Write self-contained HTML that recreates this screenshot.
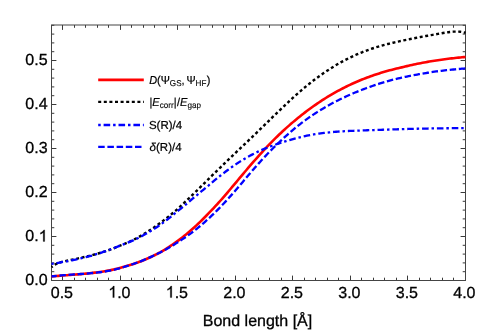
<!DOCTYPE html><html><head><meta charset="utf-8"><style>html,body{margin:0;padding:0;background:#fff;overflow:hidden}svg{display:block;will-change:transform;opacity:.999;filter:blur(0.3px);}text{text-rendering:geometricPrecision;font-family:"Liberation Sans",sans-serif;fill:#000}</style></head><body>
<svg width="491" height="331" viewBox="0 0 491 331">
<rect width="491" height="331" fill="#fff"/>
<defs><clipPath id="c"><rect x="50.9" y="24.4" width="415.9" height="256.7"/></clipPath></defs>
<path d="M51.50,280.5v-2.8M51.50,25.0v2.8M62.50,280.5v-4.9M62.50,25.0v4.9M74.50,280.5v-2.8M74.50,25.0v2.8M85.50,280.5v-2.8M85.50,25.0v2.8M97.50,280.5v-2.8M97.50,25.0v2.8M108.50,280.5v-2.8M108.50,25.0v2.8M120.50,280.5v-4.9M120.50,25.0v4.9M131.50,280.5v-2.8M131.50,25.0v2.8M143.50,280.5v-2.8M143.50,25.0v2.8M154.50,280.5v-2.8M154.50,25.0v2.8M166.50,280.5v-2.8M166.50,25.0v2.8M177.50,280.5v-4.9M177.50,25.0v4.9M189.50,280.5v-2.8M189.50,25.0v2.8M200.50,280.5v-2.8M200.50,25.0v2.8M212.50,280.5v-2.8M212.50,25.0v2.8M223.50,280.5v-2.8M223.50,25.0v2.8M235.50,280.5v-4.9M235.50,25.0v4.9M246.50,280.5v-2.8M246.50,25.0v2.8M258.50,280.5v-2.8M258.50,25.0v2.8M269.50,280.5v-2.8M269.50,25.0v2.8M281.50,280.5v-2.8M281.50,25.0v2.8M292.50,280.5v-4.9M292.50,25.0v4.9M304.50,280.5v-2.8M304.50,25.0v2.8M315.50,280.5v-2.8M315.50,25.0v2.8M327.50,280.5v-2.8M327.50,25.0v2.8M338.50,280.5v-2.8M338.50,25.0v2.8M350.50,280.5v-4.9M350.50,25.0v4.9M361.50,280.5v-2.8M361.50,25.0v2.8M373.50,280.5v-2.8M373.50,25.0v2.8M384.50,280.5v-2.8M384.50,25.0v2.8M396.50,280.5v-2.8M396.50,25.0v2.8M407.50,280.5v-4.9M407.50,25.0v4.9M419.50,280.5v-2.8M419.50,25.0v2.8M430.50,280.5v-2.8M430.50,25.0v2.8M442.50,280.5v-2.8M442.50,25.0v2.8M453.50,280.5v-2.8M453.50,25.0v2.8M465.50,280.5v-4.9M465.50,25.0v4.9M51.5,280.50h4.9M465.5,280.50h-4.9M51.5,271.70h2.8M465.5,271.70h-2.8M51.5,262.90h2.8M465.5,262.90h-2.8M51.5,254.10h2.8M465.5,254.10h-2.8M51.5,245.30h2.8M465.5,245.30h-2.8M51.5,236.50h4.9M465.5,236.50h-4.9M51.5,227.70h2.8M465.5,227.70h-2.8M51.5,218.90h2.8M465.5,218.90h-2.8M51.5,210.10h2.8M465.5,210.10h-2.8M51.5,201.30h2.8M465.5,201.30h-2.8M51.5,192.50h4.9M465.5,192.50h-4.9M51.5,183.70h2.8M465.5,183.70h-2.8M51.5,174.90h2.8M465.5,174.90h-2.8M51.5,166.10h2.8M465.5,166.10h-2.8M51.5,157.30h2.8M465.5,157.30h-2.8M51.5,148.50h4.9M465.5,148.50h-4.9M51.5,139.70h2.8M465.5,139.70h-2.8M51.5,130.90h2.8M465.5,130.90h-2.8M51.5,122.10h2.8M465.5,122.10h-2.8M51.5,113.30h2.8M465.5,113.30h-2.8M51.5,104.50h4.9M465.5,104.50h-4.9M51.5,95.70h2.8M465.5,95.70h-2.8M51.5,86.90h2.8M465.5,86.90h-2.8M51.5,78.10h2.8M465.5,78.10h-2.8M51.5,69.30h2.8M465.5,69.30h-2.8M51.5,60.50h4.9M465.5,60.50h-4.9M51.5,51.70h2.8M465.5,51.70h-2.8M51.5,42.90h2.8M465.5,42.90h-2.8M51.5,34.10h2.8M465.5,34.10h-2.8M51.5,25.30h2.8M465.5,25.30h-2.8" stroke="#3a3a3a" stroke-width="1.0" fill="none"/>
<rect x="51.5" y="25.0" width="414.0" height="255.5" fill="none" stroke="#444" stroke-width="1"/>
<g clip-path="url(#c)" fill="none" stroke-linejoin="round">
<path d="M51.50,276.42 L53.23,276.26 L54.95,276.12 L56.67,275.97 L58.40,275.84 L60.12,275.70 L61.85,275.57 L63.57,275.44 L65.30,275.31 L67.03,275.19 L68.75,275.06 L70.48,274.93 L72.20,274.80 L73.92,274.67 L75.65,274.54 L77.38,274.40 L79.10,274.25 L80.83,274.11 L82.55,273.95 L84.28,273.79 L86.00,273.62 L87.73,273.44 L89.45,273.25 L91.18,273.06 L92.90,272.85 L94.63,272.65 L96.35,272.44 L98.08,272.22 L99.80,271.98 L101.53,271.73 L103.25,271.47 L104.97,271.18 L106.70,270.89 L108.42,270.57 L110.15,270.23 L111.88,269.88 L113.60,269.51 L115.33,269.12 L117.05,268.71 L118.78,268.27 L120.50,267.82 L122.23,267.35 L123.95,266.86 L125.67,266.35 L127.40,265.85 L129.12,265.34 L130.85,264.81 L132.57,264.26 L134.30,263.69 L136.03,263.09 L137.75,262.48 L139.48,261.84 L141.20,261.18 L142.93,260.49 L144.65,259.78 L146.38,259.05 L148.10,258.30 L149.83,257.52 L151.55,256.72 L153.28,255.89 L155.00,255.04 L156.72,254.16 L158.45,253.26 L160.18,252.33 L161.90,251.35 L163.62,250.32 L165.35,249.27 L167.08,248.19 L168.80,247.08 L170.53,245.95 L172.25,244.79 L173.98,243.60 L175.70,242.39 L177.43,241.14 L179.15,239.86 L180.88,238.55 L182.60,237.21 L184.33,235.84 L186.05,234.44 L187.78,233.01 L189.50,231.55 L191.23,230.06 L192.95,228.54 L194.68,226.99 L196.40,225.41 L198.13,223.80 L199.85,222.15 L201.58,220.48 L203.30,218.77 L205.03,217.03 L206.75,215.26 L208.48,213.45 L210.20,211.69 L211.93,209.90 L213.65,208.08 L215.38,206.23 L217.10,204.34 L218.83,202.43 L220.55,200.50 L222.28,198.54 L224.00,196.56 L225.73,194.56 L227.45,192.54 L229.18,190.51 L230.90,188.47 L232.63,186.42 L234.35,184.36 L236.08,182.30 L237.80,180.24 L239.53,178.18 L241.25,176.12 L242.97,174.07 L244.70,172.02 L246.43,169.98 L248.15,167.95 L249.88,165.93 L251.60,163.93 L253.33,161.95 L255.05,159.98 L256.77,158.04 L258.50,156.12 L260.23,154.18 L261.95,152.27 L263.68,150.39 L265.40,148.53 L267.13,146.70 L268.85,144.89 L270.58,143.10 L272.30,141.35 L274.02,139.61 L275.75,137.91 L277.48,136.22 L279.20,134.56 L280.93,132.93 L282.65,131.31 L284.38,129.73 L286.10,128.16 L287.83,126.62 L289.55,125.10 L291.27,123.60 L293.00,122.13 L294.73,120.67 L296.45,119.23 L298.18,117.82 L299.90,116.42 L301.62,115.05 L303.35,113.70 L305.08,112.37 L306.80,111.06 L308.53,109.77 L310.25,108.50 L311.98,107.26 L313.70,106.03 L315.43,104.83 L317.15,103.64 L318.88,102.48 L320.60,101.33 L322.32,100.21 L324.05,99.10 L325.78,98.01 L327.50,96.95 L329.23,95.90 L330.95,94.88 L332.68,93.87 L334.40,92.88 L336.12,91.91 L337.85,90.96 L339.58,90.03 L341.30,89.11 L343.03,88.22 L344.75,87.34 L346.48,86.48 L348.20,85.64 L349.93,84.82 L351.65,84.02 L353.38,83.23 L355.10,82.47 L356.83,81.71 L358.55,80.98 L360.28,80.26 L362.00,79.56 L363.73,78.88 L365.45,78.21 L367.18,77.56 L368.90,76.92 L370.63,76.30 L372.35,75.69 L374.08,75.10 L375.80,74.52 L377.53,73.95 L379.25,73.40 L380.98,72.86 L382.70,72.34 L384.43,71.83 L386.15,71.33 L387.88,70.84 L389.60,70.37 L391.32,69.91 L393.05,69.46 L394.78,69.02 L396.50,68.59 L398.23,68.18 L399.95,67.77 L401.68,67.37 L403.40,66.96 L405.12,66.54 L406.85,66.13 L408.58,65.72 L410.30,65.33 L412.03,64.95 L413.75,64.57 L415.48,64.21 L417.20,63.85 L418.93,63.50 L420.65,63.16 L422.38,62.83 L424.10,62.50 L425.83,62.19 L427.55,61.88 L429.28,61.58 L431.00,61.28 L432.73,60.99 L434.45,60.72 L436.18,60.44 L437.90,60.18 L439.63,59.92 L441.35,59.67 L443.08,59.43 L444.80,59.20 L446.53,58.99 L448.25,58.78 L449.98,58.57 L451.70,58.37 L453.43,58.18 L455.15,57.99 L456.88,57.81 L458.60,57.63 L460.33,57.46 L462.05,57.30 L463.78,57.13 L465.50,56.98" stroke="#f00" stroke-width="2.6"/>
<path d="M51.50,267.18 L53.23,265.73 L54.95,264.60 L56.67,263.73 L58.40,263.04 L60.12,262.46 L61.85,261.96 L63.57,261.50 L65.30,261.09 L67.03,260.71 L68.75,260.35 L70.48,260.00 L72.20,259.64 L73.92,259.28 L75.65,258.92 L77.38,258.55 L79.10,258.18 L80.83,257.80 L82.55,257.42 L84.28,257.03 L86.00,256.63 L87.73,256.22 L89.45,255.80 L91.18,255.37 L92.90,254.92 L94.63,254.47 L96.35,254.00 L98.08,253.51 L99.80,253.01 L101.53,252.49 L103.25,251.96 L104.97,251.40 L106.70,250.83 L108.42,250.24 L110.15,249.62 L111.88,248.99 L113.60,248.33 L115.33,247.65 L117.05,246.95 L118.78,246.22 L120.50,245.48 L122.23,244.79 L123.95,244.08 L125.67,243.35 L127.40,242.59 L129.12,241.81 L130.85,241.01 L132.57,240.18 L134.30,239.34 L136.03,238.46 L137.75,237.57 L139.48,236.59 L141.20,235.59 L142.93,234.56 L144.65,233.51 L146.38,232.43 L148.10,231.33 L149.83,230.21 L151.55,229.06 L153.28,227.89 L155.00,226.69 L156.72,225.48 L158.45,224.25 L160.18,223.00 L161.90,221.72 L163.62,220.41 L165.35,219.07 L167.08,217.72 L168.80,216.33 L170.53,214.92 L172.25,213.49 L173.98,212.04 L175.70,210.56 L177.43,209.07 L179.15,207.52 L180.88,205.93 L182.60,204.33 L184.33,202.71 L186.05,201.08 L187.78,199.44 L189.50,197.78 L191.23,196.12 L192.95,194.44 L194.68,192.76 L196.40,191.07 L198.13,189.37 L199.85,187.67 L201.58,185.96 L203.30,184.26 L205.03,182.55 L206.75,180.84 L208.48,179.13 L210.20,177.43 L211.93,175.73 L213.65,174.03 L215.38,172.34 L217.10,170.66 L218.83,168.98 L220.55,167.30 L222.28,165.62 L224.00,163.95 L225.73,162.28 L227.45,160.61 L229.18,158.95 L230.90,157.28 L232.63,155.62 L234.35,153.95 L236.08,152.30 L237.80,150.66 L239.53,149.03 L241.25,147.39 L242.97,145.76 L244.70,144.12 L246.43,142.48 L248.15,140.83 L249.88,139.18 L251.60,137.53 L253.33,135.88 L255.05,134.22 L256.77,132.55 L258.50,130.88 L260.23,129.21 L261.95,127.53 L263.68,125.85 L265.40,124.16 L267.13,122.48 L268.85,120.79 L270.58,119.10 L272.30,117.42 L274.02,115.74 L275.75,114.07 L277.48,112.40 L279.20,110.73 L280.93,109.07 L282.65,107.42 L284.38,105.78 L286.10,104.14 L287.83,102.52 L289.55,100.91 L291.27,99.31 L293.00,97.73 L294.73,96.16 L296.45,94.61 L298.18,93.08 L299.90,91.57 L301.62,90.08 L303.35,88.62 L305.08,87.17 L306.80,85.75 L308.53,84.35 L310.25,82.97 L311.98,81.62 L313.70,80.29 L315.43,78.99 L317.15,77.71 L318.88,76.45 L320.60,75.22 L322.32,74.01 L324.05,72.83 L325.78,71.67 L327.50,70.54 L329.23,69.39 L330.95,68.28 L332.68,67.18 L334.40,66.11 L336.12,65.07 L337.85,64.05 L339.58,63.06 L341.30,62.09 L343.03,61.14 L344.75,60.23 L346.48,59.33 L348.20,58.47 L349.93,57.63 L351.65,56.80 L353.38,55.98 L355.10,55.20 L356.83,54.43 L358.55,53.69 L360.28,52.98 L362.00,52.28 L363.73,51.60 L365.45,50.95 L367.18,50.31 L368.90,49.69 L370.63,49.09 L372.35,48.51 L374.08,47.95 L375.80,47.39 L377.53,46.86 L379.25,46.34 L380.98,45.83 L382.70,45.33 L384.43,44.85 L386.15,44.40 L387.88,43.97 L389.60,43.54 L391.32,43.13 L393.05,42.72 L394.78,42.32 L396.50,41.93 L398.23,41.55 L399.95,41.17 L401.68,40.79 L403.40,40.42 L405.12,40.06 L406.85,39.70 L408.58,39.35 L410.30,39.00 L412.03,38.65 L413.75,38.31 L415.48,37.97 L417.20,37.64 L418.93,37.31 L420.65,36.99 L422.38,36.67 L424.10,36.35 L425.83,36.04 L427.55,35.73 L429.28,35.42 L431.00,35.12 L432.73,34.82 L434.45,34.52 L436.18,34.22 L437.90,33.92 L439.63,33.62 L441.35,33.33 L443.08,33.04 L444.80,32.75 L446.53,32.47 L448.25,32.22 L449.98,31.99 L451.70,31.81 L453.43,31.67 L455.15,31.58 L456.88,31.57 L458.60,31.62 L460.33,31.76 L462.05,31.99 L463.78,32.31 L465.50,32.75" stroke="#000" stroke-width="2.4" stroke-dasharray="2.983 2.586" stroke-dashoffset="1.49"/>
<path d="M51.50,263.82 L53.23,263.57 L54.95,263.31 L56.67,263.04 L58.40,262.77 L60.12,262.49 L61.85,262.19 L63.57,261.89 L65.30,261.58 L67.03,261.26 L68.75,260.93 L70.48,260.60 L72.20,260.25 L73.92,259.89 L75.65,259.53 L77.38,259.15 L79.10,258.76 L80.83,258.37 L82.55,257.96 L84.28,257.55 L86.00,257.12 L87.73,256.68 L89.45,256.23 L91.18,255.77 L92.90,255.28 L94.63,254.75 L96.35,254.21 L98.08,253.67 L99.80,253.11 L101.53,252.54 L103.25,251.96 L104.97,251.36 L106.70,250.76 L108.42,250.14 L110.15,249.51 L111.88,248.86 L113.60,248.21 L115.33,247.54 L117.05,246.86 L118.78,246.16 L120.50,245.44 L122.23,244.80 L123.95,244.15 L125.67,243.47 L127.40,242.78 L129.12,242.08 L130.85,241.35 L132.57,240.61 L134.30,239.84 L136.03,239.06 L137.75,238.26 L139.48,237.37 L141.20,236.46 L142.93,235.52 L144.65,234.57 L146.38,233.59 L148.10,232.59 L149.83,231.56 L151.55,230.52 L153.28,229.44 L155.00,228.35 L156.72,227.20 L158.45,226.02 L160.18,224.82 L161.90,223.59 L163.62,222.33 L165.35,221.05 L167.08,219.74 L168.80,218.40 L170.53,217.03 L172.25,215.64 L173.98,214.23 L175.70,212.80 L177.43,211.35 L179.15,209.94 L180.88,208.53 L182.60,207.12 L184.33,205.69 L186.05,204.26 L187.78,202.81 L189.50,201.36 L191.23,199.91 L192.95,198.45 L194.68,196.99 L196.40,195.54 L198.13,194.09 L199.85,192.64 L201.58,191.20 L203.30,189.77 L205.03,188.34 L206.75,186.93 L208.48,185.54 L210.20,184.08 L211.93,182.60 L213.65,181.15 L215.38,179.71 L217.10,178.29 L218.83,176.89 L220.55,175.52 L222.28,174.16 L224.00,172.83 L225.73,171.52 L227.45,170.23 L229.18,168.96 L230.90,167.71 L232.63,166.49 L234.35,165.29 L236.08,164.13 L237.80,163.00 L239.53,161.90 L241.25,160.82 L242.97,159.77 L244.70,158.74 L246.43,157.74 L248.15,156.76 L249.88,155.81 L251.60,154.88 L253.33,153.98 L255.05,153.09 L256.77,152.23 L258.50,151.39 L260.23,150.62 L261.95,149.87 L263.68,149.14 L265.40,148.43 L267.13,147.74 L268.85,147.07 L270.58,146.41 L272.30,145.76 L274.02,145.14 L275.75,144.52 L277.48,143.93 L279.20,143.34 L280.93,142.77 L282.65,142.21 L284.38,141.66 L286.10,141.12 L287.83,140.60 L289.55,140.09 L291.27,139.59 L293.00,139.10 L294.73,138.63 L296.45,138.17 L298.18,137.73 L299.90,137.30 L301.62,136.88 L303.35,136.48 L305.08,136.10 L306.80,135.73 L308.53,135.38 L310.25,135.04 L311.98,134.72 L313.70,134.42 L315.43,134.13 L317.15,133.86 L318.88,133.61 L320.60,133.37 L322.32,133.15 L324.05,132.94 L325.78,132.75 L327.50,132.57 L329.23,132.38 L330.95,132.21 L332.68,132.05 L334.40,131.90 L336.12,131.76 L337.85,131.62 L339.58,131.50 L341.30,131.39 L343.03,131.28 L344.75,131.19 L346.48,131.09 L348.20,131.01 L349.93,130.93 L351.65,130.85 L353.38,130.78 L355.10,130.71 L356.83,130.65 L358.55,130.58 L360.28,130.52 L362.00,130.46 L363.73,130.40 L365.45,130.33 L367.18,130.27 L368.90,130.21 L370.63,130.15 L372.35,130.09 L374.08,130.03 L375.80,129.97 L377.53,129.91 L379.25,129.86 L380.98,129.80 L382.70,129.74 L384.43,129.69 L386.15,129.63 L387.88,129.58 L389.60,129.52 L391.32,129.47 L393.05,129.41 L394.78,129.36 L396.50,129.31 L398.23,129.26 L399.95,129.21 L401.68,129.16 L403.40,129.11 L405.12,129.06 L406.85,129.01 L408.58,128.97 L410.30,128.92 L412.03,128.88 L413.75,128.84 L415.48,128.79 L417.20,128.75 L418.93,128.71 L420.65,128.67 L422.38,128.64 L424.10,128.60 L425.83,128.57 L427.55,128.53 L429.28,128.50 L431.00,128.47 L432.73,128.44 L434.45,128.41 L436.18,128.38 L437.90,128.36 L439.63,128.34 L441.35,128.31 L443.08,128.29 L444.80,128.27 L446.53,128.26 L448.25,128.24 L449.98,128.23 L451.70,128.21 L453.43,128.20 L455.15,128.19 L456.88,128.19 L458.60,128.18 L460.33,128.18 L462.05,128.18 L463.78,128.18 L465.50,128.18" stroke="#00f" stroke-width="2.3" stroke-dasharray="2.491 2.890 6.577 2.890" stroke-dashoffset="0.30"/>
<path d="M51.50,276.46 L53.23,276.24 L54.95,276.03 L56.67,275.85 L58.40,275.67 L60.12,275.51 L61.85,275.35 L63.57,275.21 L65.30,275.07 L67.03,274.94 L68.75,274.82 L70.48,274.70 L72.20,274.59 L73.92,274.47 L75.65,274.36 L77.38,274.25 L79.10,274.13 L80.83,274.01 L82.55,273.89 L84.28,273.76 L86.00,273.63 L87.73,273.49 L89.45,273.34 L91.18,273.17 L92.90,273.00 L94.63,272.83 L96.35,272.65 L98.08,272.46 L99.80,272.25 L101.53,272.02 L103.25,271.77 L104.97,271.50 L106.70,271.21 L108.42,270.90 L110.15,270.56 L111.88,270.20 L113.60,269.81 L115.33,269.41 L117.05,268.97 L118.78,268.52 L120.50,268.04 L122.23,267.54 L123.95,267.02 L125.67,266.47 L127.40,265.94 L129.12,265.40 L130.85,264.84 L132.57,264.26 L134.30,263.66 L136.03,263.04 L137.75,262.40 L139.48,261.74 L141.20,261.06 L142.93,260.36 L144.65,259.65 L146.38,258.92 L148.10,258.17 L149.83,257.41 L151.55,256.63 L153.28,255.83 L155.00,255.01 L156.72,254.19 L158.45,253.34 L160.18,252.48 L161.90,251.57 L163.62,250.62 L165.35,249.66 L167.08,248.69 L168.80,247.70 L170.53,246.69 L172.25,245.67 L173.98,244.64 L175.70,243.59 L177.43,242.51 L179.15,241.41 L180.88,240.29 L182.60,239.15 L184.33,237.98 L186.05,236.79 L187.78,235.57 L189.50,234.33 L191.23,233.06 L192.95,231.76 L194.68,230.43 L196.40,229.07 L198.13,227.68 L199.85,226.26 L201.58,224.80 L203.30,223.31 L205.03,221.78 L206.75,220.22 L208.48,218.62 L210.20,217.05 L211.93,215.45 L213.65,213.82 L215.38,212.14 L217.10,210.42 L218.83,208.67 L220.55,206.89 L222.28,205.08 L224.00,203.24 L225.73,201.37 L227.45,199.48 L229.18,197.57 L230.90,195.64 L232.63,193.69 L234.35,191.73 L236.08,189.75 L237.80,187.73 L239.53,185.70 L241.25,183.67 L242.97,181.64 L244.70,179.61 L246.43,177.57 L248.15,175.55 L249.88,173.53 L251.60,171.52 L253.33,169.52 L255.05,167.54 L256.77,165.57 L258.50,163.62 L260.23,161.72 L261.95,159.83 L263.68,157.97 L265.40,156.13 L267.13,154.31 L268.85,152.52 L270.58,150.74 L272.30,148.99 L274.02,147.26 L275.75,145.56 L277.48,143.88 L279.20,142.22 L280.93,140.59 L282.65,138.98 L284.38,137.40 L286.10,135.84 L287.83,134.30 L289.55,132.80 L291.27,131.31 L293.00,129.86 L294.73,128.42 L296.45,127.02 L298.18,125.64 L299.90,124.29 L301.62,122.96 L303.35,121.67 L305.08,120.39 L306.80,119.13 L308.53,117.89 L310.25,116.68 L311.98,115.50 L313.70,114.34 L315.43,113.21 L317.15,112.10 L318.88,111.01 L320.60,109.95 L322.32,108.91 L324.05,107.89 L325.78,106.89 L327.50,105.91 L329.23,104.96 L330.95,104.02 L332.68,103.10 L334.40,102.19 L336.12,101.31 L337.85,100.44 L339.58,99.59 L341.30,98.75 L343.03,97.93 L344.75,97.13 L346.48,96.33 L348.20,95.56 L349.93,94.79 L351.65,94.03 L353.38,93.29 L355.10,92.56 L356.83,91.85 L358.55,91.15 L360.28,90.47 L362.00,89.79 L363.73,89.13 L365.45,88.48 L367.18,87.84 L368.90,87.21 L370.63,86.60 L372.35,86.00 L374.08,85.41 L375.80,84.83 L377.53,84.26 L379.25,83.71 L380.98,83.17 L382.70,82.64 L384.43,82.12 L386.15,81.62 L387.88,81.12 L389.60,80.64 L391.32,80.17 L393.05,79.72 L394.78,79.27 L396.50,78.84 L398.23,78.42 L399.95,78.02 L401.68,77.62 L403.40,77.24 L405.12,76.87 L406.85,76.51 L408.58,76.17 L410.30,75.83 L412.03,75.51 L413.75,75.20 L415.48,74.89 L417.20,74.55 L418.93,74.22 L420.65,73.91 L422.38,73.60 L424.10,73.30 L425.83,73.02 L427.55,72.74 L429.28,72.47 L431.00,72.21 L432.73,71.96 L434.45,71.72 L436.18,71.48 L437.90,71.25 L439.63,71.03 L441.35,70.82 L443.08,70.62 L444.80,70.42 L446.53,70.22 L448.25,70.04 L449.98,69.85 L451.70,69.68 L453.43,69.51 L455.15,69.34 L456.88,69.18 L458.60,69.02 L460.33,68.87 L462.05,68.72 L463.78,68.57 L465.50,68.43" stroke="#00f" stroke-width="2.3" stroke-dasharray="6.453 2.680" stroke-dashoffset="1.19"/>
</g>
<text x="50.78" y="297.60" font-size="16" stroke="#000" stroke-width="0.3">0</text><text x="59.68" y="297.60" font-size="16" stroke="#000" stroke-width="0.3">.</text><text x="64.12" y="297.60" font-size="16" stroke="#000" stroke-width="0.3">5</text>
<path transform="translate(108.28,297.60) scale(0.00781,-0.00781)" d="M763 0H583V1147Q518 1085 412.5 1023T223 930V1104Q374 1175 487 1276T647 1472H763V0Z" fill="#000" stroke="#000" stroke-width="38"/><text x="117.18" y="297.60" font-size="16" stroke="#000" stroke-width="0.3">.</text><text x="121.62" y="297.60" font-size="16" stroke="#000" stroke-width="0.3">0</text>
<path transform="translate(165.78,297.60) scale(0.00781,-0.00781)" d="M763 0H583V1147Q518 1085 412.5 1023T223 930V1104Q374 1175 487 1276T647 1472H763V0Z" fill="#000" stroke="#000" stroke-width="38"/><text x="174.68" y="297.60" font-size="16" stroke="#000" stroke-width="0.3">.</text><text x="179.12" y="297.60" font-size="16" stroke="#000" stroke-width="0.3">5</text>
<text x="223.28" y="297.60" font-size="16" stroke="#000" stroke-width="0.3">2</text><text x="232.18" y="297.60" font-size="16" stroke="#000" stroke-width="0.3">.</text><text x="236.62" y="297.60" font-size="16" stroke="#000" stroke-width="0.3">0</text>
<text x="280.78" y="297.60" font-size="16" stroke="#000" stroke-width="0.3">2</text><text x="289.68" y="297.60" font-size="16" stroke="#000" stroke-width="0.3">.</text><text x="294.12" y="297.60" font-size="16" stroke="#000" stroke-width="0.3">5</text>
<text x="338.28" y="297.60" font-size="16" stroke="#000" stroke-width="0.3">3</text><text x="347.18" y="297.60" font-size="16" stroke="#000" stroke-width="0.3">.</text><text x="351.62" y="297.60" font-size="16" stroke="#000" stroke-width="0.3">0</text>
<text x="395.78" y="297.60" font-size="16" stroke="#000" stroke-width="0.3">3</text><text x="404.68" y="297.60" font-size="16" stroke="#000" stroke-width="0.3">.</text><text x="409.12" y="297.60" font-size="16" stroke="#000" stroke-width="0.3">5</text>
<text x="453.28" y="297.60" font-size="16" stroke="#000" stroke-width="0.3">4</text><text x="462.18" y="297.60" font-size="16" stroke="#000" stroke-width="0.3">.</text><text x="466.62" y="297.60" font-size="16" stroke="#000" stroke-width="0.3">0</text>
<text x="25.36" y="285.40" font-size="16" stroke="#000" stroke-width="0.3">0</text><text x="34.26" y="285.40" font-size="16" stroke="#000" stroke-width="0.3">.</text><text x="38.70" y="285.40" font-size="16" stroke="#000" stroke-width="0.3">0</text>
<text x="25.36" y="241.40" font-size="16" stroke="#000" stroke-width="0.3">0</text><text x="34.26" y="241.40" font-size="16" stroke="#000" stroke-width="0.3">.</text><path transform="translate(38.70,241.40) scale(0.00781,-0.00781)" d="M763 0H583V1147Q518 1085 412.5 1023T223 930V1104Q374 1175 487 1276T647 1472H763V0Z" fill="#000" stroke="#000" stroke-width="38"/>
<text x="25.36" y="197.40" font-size="16" stroke="#000" stroke-width="0.3">0</text><text x="34.26" y="197.40" font-size="16" stroke="#000" stroke-width="0.3">.</text><text x="38.70" y="197.40" font-size="16" stroke="#000" stroke-width="0.3">2</text>
<text x="25.36" y="153.40" font-size="16" stroke="#000" stroke-width="0.3">0</text><text x="34.26" y="153.40" font-size="16" stroke="#000" stroke-width="0.3">.</text><text x="38.70" y="153.40" font-size="16" stroke="#000" stroke-width="0.3">3</text>
<text x="25.36" y="109.40" font-size="16" stroke="#000" stroke-width="0.3">0</text><text x="34.26" y="109.40" font-size="16" stroke="#000" stroke-width="0.3">.</text><text x="38.70" y="109.40" font-size="16" stroke="#000" stroke-width="0.3">4</text>
<text x="25.36" y="65.40" font-size="16" stroke="#000" stroke-width="0.3">0</text><text x="34.26" y="65.40" font-size="16" stroke="#000" stroke-width="0.3">.</text><text x="38.70" y="65.40" font-size="16" stroke="#000" stroke-width="0.3">5</text>
<text x="257.5" y="326.3" font-size="16" text-anchor="middle" stroke="#000" stroke-width="0.3">Bond length [Å]</text>
<g fill="none">
<path d="M98.2,79.9H143.8" stroke="#f00" stroke-width="2.6"/>
<path d="M98.2,101.9H143.8" stroke="#000" stroke-width="2.4" stroke-dasharray="3.0 2.6"/>
<path d="M98.2,125.0H143.8" stroke="#00f" stroke-width="2.3" stroke-dasharray="2.5 2.9 6.6 2.9"/>
<path d="M98.2,146.8H143.8" stroke="#00f" stroke-width="2.3" stroke-dasharray="6.5 2.7"/>
</g>
<g transform="translate(149.2,84.1) scale(0.95,1)"><text x="0" y="0" font-size="11.5" stroke="#000" stroke-width="0.21"><tspan font-style="italic">D</tspan>(Ψ<tspan font-size="8.5" stroke-width="0.12" dy="2.3">GS</tspan><tspan dy="-2.3">,</tspan><tspan dx="-1.2"> Ψ</tspan><tspan font-size="8.5" stroke-width="0.12" dy="2.3">HF</tspan><tspan dy="-2.3" dx="0.3">)</tspan></text></g>
<g transform="translate(149.5,105.7) scale(0.955,1)"><text x="0" y="0" font-size="11.5" stroke="#000" stroke-width="0.21">|<tspan font-style="italic">E</tspan><tspan font-size="8.5" stroke-width="0.12" dy="2.3">corr</tspan><tspan dy="-2.3">|</tspan><tspan dx="0.5">/</tspan><tspan font-style="italic">E</tspan><tspan font-size="8.5" stroke-width="0.12" dy="2.3">gap</tspan></text></g>
<g transform="translate(148.9,128.9) scale(1,1)"><text x="0" y="0" font-size="11.5" stroke="#000" stroke-width="0.21">S(R)/4</text></g>
<g transform="translate(149.6,151.0) scale(1,1)"><text x="0" y="0" font-size="11.5" stroke="#000" stroke-width="0.21"><tspan font-style="italic">δ</tspan>(R)/4</text></g>
</svg></body></html>
